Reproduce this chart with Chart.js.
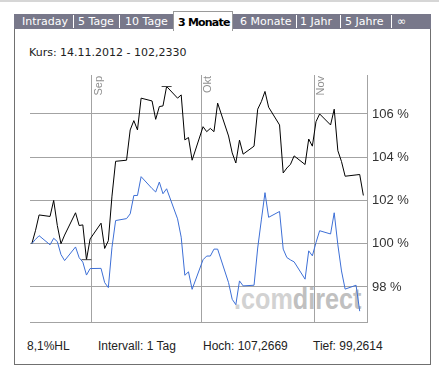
<!DOCTYPE html>
<html>
<head>
<meta charset="utf-8">
<script src="https://cdn.jsdelivr.net/npm/chart.js@4.4.0/dist/chart.umd.min.js"></script>
<style>
  html, body { margin: 0; padding: 0; background: #fff; }
  body { width: 439px; height: 373px; position: relative; overflow: hidden; }
  .topline { position: absolute; left: 0; top: 0; width: 439px; height: 2px; background: #d6d6d6; }
  .tabbar { position: absolute; left: 14px; top: 14px; width: 417px; height: 15px; background: #78788a; }
  .tab { position: absolute; top: 14px; font: 11px/15px "DejaVu Sans", sans-serif; color: #fff; white-space: nowrap; }
  .sep { position: absolute; top: 15px; width: 1px; height: 13px; background: #fff; }
  .active { position: absolute; left: 173px; top: 11px; width: 58px; height: 19px; background: #fff;
            border: 1px solid #9a9a9a; border-bottom: none; }
  .active span { position: absolute; left: 4px; top: 3px; font: bold 11px/15px "DejaVu Sans", sans-serif;
                 letter-spacing: -0.8px; color: #000; white-space: nowrap; }
  .frame { position: absolute; left: 14px; top: 29px; width: 415px; height: 335px;
           border: 1px solid #707070; border-top: none; }
  .kurs { position: absolute; left: 29px; top: 46px; font: 11px/13px "DejaVu Sans", sans-serif; color: #222; white-space: nowrap; }
  .foot { position: absolute; top: 339px; font: 12px/14px "Liberation Sans", Arial, sans-serif; color: #222; white-space: nowrap; }
  .mark { position: absolute; left: 234px; top: 283px; font: bold 30px/32px "Liberation Sans", Arial, sans-serif;
          transform: scaleX(0.84); transform-origin: left top; white-space: nowrap; }
  .mark .a { color: #d2d2d2; }
  .mark .b { color: #c0c0c0; }
  canvas { position: absolute; left: 0; top: 0; }
</style>
</head>
<body>
<div class="topline"></div>
<div class="tabbar"></div>
<span class="tab" style="left:22px">Intraday</span>
<div class="sep" style="left:73px"></div>
<span class="tab" style="left:78px">5 Tage</span>
<div class="sep" style="left:119px"></div>
<span class="tab" style="left:125px">10 Tage</span>
<div class="active"><span>3 Monate</span></div>
<span class="tab" style="left:240px">6 Monate</span>
<div class="sep" style="left:296px"></div>
<span class="tab" style="left:300px">1 Jahr</span>
<div class="sep" style="left:340px"></div>
<span class="tab" style="left:345px">5 Jahre</span>
<div class="sep" style="left:391px"></div>
<span class="tab" style="left:397px">∞</span>
<div class="frame"></div>
<div class="kurs">Kurs: 14.11.2012 - 102,2330</div>
<div class="mark"><span class="a">.com</span><span class="b">direct</span></div>
<div class="foot" style="left:27px">8,1%HL</div>
<div class="foot" style="left:98px">Intervall: 1 Tag</div>
<div class="foot" style="left:203px">Hoch: 107,2669</div>
<div class="foot" style="left:313px">Tief: 99,2614</div>
<canvas id="chart" width="439" height="373"></canvas>
<script>
// Handelstage 15.08.2012 - 14.11.2012
const dates = [
  '2012-08-15','2012-08-16','2012-08-17','2012-08-20','2012-08-21','2012-08-22','2012-08-23','2012-08-24',
  '2012-08-27','2012-08-28','2012-08-29','2012-08-30','2012-08-31',
  '2012-09-03','2012-09-04','2012-09-05','2012-09-06','2012-09-07',
  '2012-09-10','2012-09-11','2012-09-12','2012-09-13','2012-09-14',
  '2012-09-17','2012-09-18','2012-09-19','2012-09-20','2012-09-21',
  '2012-09-24','2012-09-25','2012-09-26','2012-09-27','2012-09-28',
  '2012-10-01','2012-10-02','2012-10-03','2012-10-04','2012-10-05',
  '2012-10-08','2012-10-09','2012-10-10','2012-10-11','2012-10-12',
  '2012-10-15','2012-10-16','2012-10-17','2012-10-18','2012-10-19',
  '2012-10-22','2012-10-23','2012-10-24','2012-10-25','2012-10-26',
  '2012-10-29','2012-10-30','2012-10-31','2012-11-01','2012-11-02',
  '2012-11-05','2012-11-06','2012-11-07','2012-11-08','2012-11-09',
  '2012-11-12','2012-11-13','2012-11-14'
];
// Kurs in % (Start = 100)
const kurs = [
  100.00, 100.60, 101.33, 101.26, 102.00, 100.84, 100.00, 100.40,
  101.43, 100.84, 100.87, 99.26, 100.22,
  100.95, 99.78, 100.14, 102.20, 103.81,
  103.86, 105.26, 105.69, 105.26, 106.73,
  106.60, 105.75, 106.34, 106.37, 107.27,
  106.73, 106.88, 104.80, 104.91, 103.86,
  105.41, 105.18, 105.33, 105.18, 106.50,
  104.98, 104.20, 103.73, 104.79, 104.14,
  104.51, 106.22, 106.57, 107.04, 106.31,
  105.49, 103.27, 103.50, 103.67, 104.06,
  103.66, 104.84, 104.51, 105.64, 106.00,
  105.49, 106.22, 104.30, 103.80, 103.12,
  103.18, 103.20, 102.23
];
// Vergleichsindex in %
const vergleich = [
  100.00, 100.20, 100.37, 99.95, 100.25, 100.10, 99.50, 99.22,
  99.85, 99.35, 99.15, 98.55, 98.85,
  98.86, 98.20, 97.97, 99.83, 101.07,
  101.16, 101.38, 102.23, 102.23, 103.10,
  102.55, 102.39, 102.85, 102.31, 102.54,
  101.15, 100.30, 98.54, 98.70, 97.89,
  99.26, 99.43, 99.43, 99.75, 99.75,
  98.20, 97.43, 97.18, 98.28, 98.05,
  98.08, 99.80, 101.10, 102.36, 101.22,
  101.49, 99.75, 99.36, 99.25, 99.16,
  98.36, 99.67, 99.44, 100.05, 100.60,
  100.45, 101.43, 99.95, 98.74, 97.90,
  98.08, 96.88, null
];
const monthStarts = ['2012-09-01', '2012-10-01', '2012-11-01'];
const monthLabels = ['Sep', 'Okt', 'Nov'];
const yTicks = [98, 100, 102, 104, 106];
const hochDate = '2012-09-21', hoch = 107.2669;
const tiefDate = '2012-08-30', tief = 99.2614;

const startDay = Date.UTC(2012, 7, 15);
function dayNo(s) {
  const p = s.split('-');
  return (Date.UTC(+p[0], +p[1] - 1, +p[2]) - startDay) / 86400000;
}

const kursPts = dates.map((d, i) => ({ x: dayNo(d), y: kurs[i] }));
const vglPts = dates.map((d, i) => ({ x: dayNo(d), y: vergleich[i] })).filter(p => p.y !== null);

const monthLabelPlugin = {
  id: 'monthLabels',
  afterDatasetsDraw(chart) {
    const { ctx, chartArea, scales: { x } } = chart;
    ctx.save();
    ctx.font = '11px "Liberation Sans", Arial, sans-serif';
    ctx.fillStyle = '#8e8e8e';
    ctx.textAlign = 'right';
    ctx.textBaseline = 'top';
    monthStarts.forEach((m, i) => {
      const px = x.getPixelForValue(dayNo(m) - 0.5);
      ctx.save();
      ctx.translate(Math.round(px) + 1, chartArea.top + 1);
      ctx.rotate(-Math.PI / 2);
      ctx.fillText(monthLabels[i], 0, 0);
      ctx.restore();
    });
    ctx.restore();
  }
};

const gridGray = '#a3a3a3';

new Chart(document.getElementById('chart'), {
  type: 'line',
  data: {
    datasets: [
      {
        label: 'Hoch/Tief',
        type: 'scatter',
        data: [{ x: dayNo(hochDate), y: hoch }, { x: dayNo(tiefDate), y: tief }],
        pointStyle: 'line',
        pointRadius: 5,
        borderColor: '#444',
        borderWidth: 1,
        showLine: false
      },
      {
        label: 'Vergleich',
        data: vglPts,
        borderColor: '#3d6fd6',
        borderWidth: 1,
        pointRadius: 0,
        tension: 0,
        fill: false
      },
      {
        label: 'Kurs',
        data: kursPts,
        borderColor: '#000',
        borderWidth: 1,
        pointRadius: 0,
        tension: 0,
        fill: false
      }
    ]
  },
  options: {
    responsive: false,
    animation: false,
    devicePixelRatio: 1,
    layout: { padding: { left: 30, top: 75, right: 0, bottom: 51 } },
    plugins: { legend: { display: false }, tooltip: { enabled: false } },
    scales: {
      x: {
        type: 'linear',
        min: -0.5,
        max: 92,
        afterBuildTicks: s => { s.ticks = monthStarts.map(m => ({ value: dayNo(m) - 0.5 })); },
        afterFit: s => { s.height = 0; },
        ticks: { display: false },
        grid: { color: gridGray, drawTicks: false },
        border: { color: gridGray }
      },
      y: {
        position: 'right',
        min: 96.38,
        max: 107.8,
        afterBuildTicks: s => { s.ticks = yTicks.map(v => ({ value: v })); },
        afterFit: s => { s.width = 72; },
        ticks: {
          padding: 5,
          color: '#333',
          font: { family: '"Liberation Sans", Arial, sans-serif', size: 13 },
          callback: v => v + ' %'
        },
        grid: { color: gridGray, drawTicks: false },
        border: { color: gridGray }
      }
    }
  },
  plugins: [monthLabelPlugin]
});
</script>
</body>
</html>
